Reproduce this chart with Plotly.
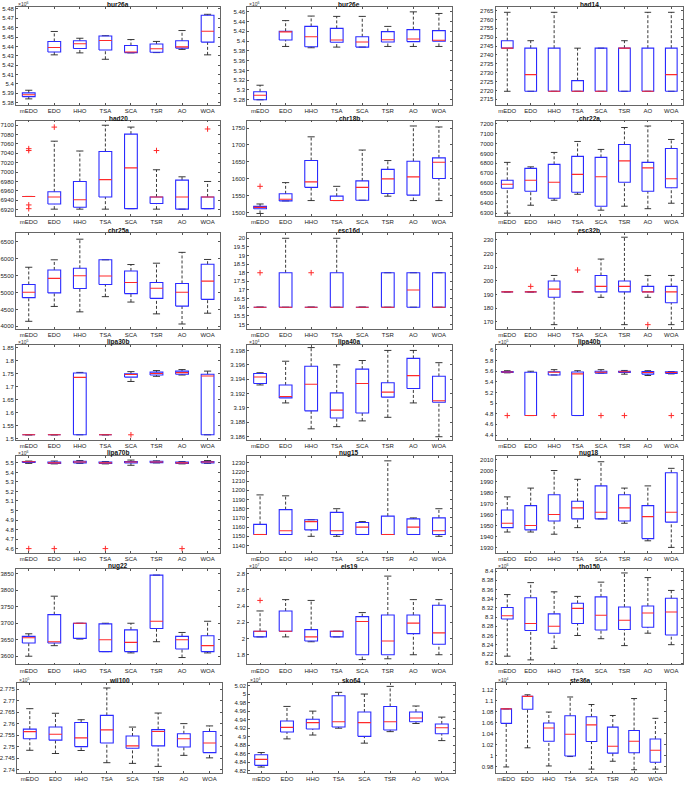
import plotly.graph_objects as go

categories = ["mEDO", "EDO", "HHO", "TSA", "SCA", "TSR", "AO", "WOA"]

# Each panel: [lower whisker, Q1, median, Q3, upper whisker] per algorithm; outliers as (index, value)
bur26a = [[5.3841, 5.4310, 5.4331, 5.4263, 5.4331, 5.4334, 5.4368, 5.4310],
          [5.3865, 5.4341, 5.4378, 5.4361, 5.4334, 5.4337, 5.4382, 5.4446],
          [5.3885, 5.4388, 5.4429, 5.4463, 5.4341, 5.4375, 5.4395, 5.4562],
          [5.3905, 5.4453, 5.4460, 5.4511, 5.4409, 5.4426, 5.4460, 5.4732],
          [5.3933, 5.4559, 5.4487, 5.4514, 5.4473, 5.4453, 5.4569, 5.4742]]
bur26a_out = []
bur26e = [[5.2799, 5.3891, 5.3865, 5.3878, 5.3878, 5.3891, 5.3891, 5.3891],
          [5.2799, 5.4024, 5.3885, 5.3977, 5.3878, 5.3984, 5.3991, 5.3997],
          [5.2891, 5.4189, 5.4090, 5.4024, 5.3984, 5.4030, 5.4044, 5.4017],
          [5.2964, 5.4203, 5.4302, 5.4262, 5.4090, 5.4196, 5.4236, 5.4216],
          [5.3097, 5.4421, 5.4514, 5.4507, 5.4507, 5.4302, 5.4600, 5.4567]]
bur26e_out = []
had14 = [[2719.5, 2719.5, 2719.5, 2719.5, 2719.5, 2719.5, 2719.5, 2719.5],
         [2743.8, 2719.5, 2719.5, 2719.5, 2719.5, 2719.5, 2719.5, 2719.5],
         [2743.8, 2728.9, 2719.5, 2719.5, 2719.5, 2743.8, 2719.5, 2728.9],
         [2748.0, 2743.8, 2743.8, 2725.5, 2743.8, 2743.8, 2743.8, 2743.8],
         [2764.0, 2748.0, 2764.0, 2743.8, 2743.8, 2748.0, 2764.0, 2764.0]]
had14_out = []
had20 = [[6948, 6921, 6921, 6921, 6922, 6921, 6921, 6922],
         [6948, 6932, 6925, 6947, 6922, 6933, 6921, 6922],
         [6948, 6947, 6941, 6984, 7009, 6947, 6947, 6947],
         [6948, 6958, 6980, 7044, 7081, 6947, 6983, 6947],
         [6948, 7066, 7045, 7100, 7096, 7005, 6990, 6980]]
had20_out = [(0, 7050), (0, 7046), (0, 6930), (0, 6922), (1, 7096), (5, 7046), (7, 7092)]
chr18b = [[1498, 1535, 1536, 1536, 1537, 1549, 1536, 1536],
          [1512, 1535, 1575, 1536, 1537, 1557, 1552, 1601],
          [1516, 1540, 1591, 1536, 1575, 1600, 1606, 1649],
          [1519, 1556, 1654, 1549, 1594, 1628, 1652, 1662],
          [1526, 1589, 1724, 1578, 1685, 1654, 1756, 1753]]
chr18b_out = [(0, 1578)]
chr22a = [[6300, 6380, 6430, 6490, 6330, 6370, 6345, 6400],
          [6550, 6520, 6450, 6510, 6370, 6610, 6520, 6555],
          [6590, 6630, 6610, 6690, 6665, 6825, 6755, 6645],
          [6630, 6750, 6790, 6870, 6860, 6990, 6810, 6950],
          [6810, 6765, 6910, 7020, 6940, 7160, 7175, 7040]]
chr22a_out = []
chr25a = [[4150, 4590, 4430, 4880, 4720, 4370, 4070, 4390],
          [4850, 4990, 5120, 5240, 4970, 4830, 4600, 4800],
          [5010, 5420, 5500, 5490, 5300, 5130, 5010, 5340],
          [5240, 5670, 5720, 5970, 5640, 5300, 5270, 5840],
          [5750, 5970, 6580, 5970, 5830, 5870, 6190, 5980]]
chr25a_out = []
esc16d = [[16, 16, 16, 16, 16, 16, 16, 16],
          [16, 16, 16, 16, 16, 16, 16, 16],
          [16, 16, 16, 16, 16, 16, 17, 16],
          [16, 18, 16, 18, 16, 18, 18, 18],
          [16, 20, 16, 20, 16, 18, 18, 18]]
esc16d_out = [(0, 18), (2, 18)]
esc32b = [[192, 192, 168, 192, 188, 168, 188, 168],
          [192, 192, 188, 192, 192, 192, 192, 184],
          [192, 192, 194, 192, 196, 196, 192, 192],
          [192, 192, 200, 192, 204, 200, 196, 196],
          [192, 192, 204, 192, 216, 232, 204, 204]]
esc32b_out = [(1, 196), (3, 208), (6, 168)]
lipa30b = [[1.5143, 1.5143, 1.5143, 1.5143, 1.720, 1.740, 1.745, 1.5143],
           [1.5143, 1.5143, 1.5143, 1.5143, 1.737, 1.745, 1.748, 1.5143],
           [1.5143, 1.5143, 1.736, 1.5143, 1.747, 1.751, 1.754, 1.741],
           [1.5143, 1.5143, 1.753, 1.5143, 1.750, 1.756, 1.760, 1.748],
           [1.5143, 1.5143, 1.755, 1.5143, 1.758, 1.762, 1.766, 1.760]]
lipa30b_out = [(4, 1.5143)]
lipa40a = [[3.1932, 3.1907, 3.1871, 3.1874, 3.1882, 3.1887, 3.1907, 3.1860],
           [3.1934, 3.1914, 3.1896, 3.1886, 3.1893, 3.1915, 3.1927, 3.1908],
           [3.1943, 3.1916, 3.1933, 3.1897, 3.1934, 3.1922, 3.1945, 3.1910],
           [3.1948, 3.1932, 3.1958, 3.1921, 3.1954, 3.1935, 3.1969, 3.1944],
           [3.1949, 3.1965, 3.1984, 3.1960, 3.1966, 3.1980, 3.1980, 3.1963]]
lipa40a_out = []
lipa40b = [[5.570, 4.766, 5.530, 4.766, 5.565, 5.545, 5.520, 5.550],
           [5.575, 4.766, 5.530, 4.766, 5.565, 5.575, 5.545, 5.560],
           [5.585, 4.766, 5.580, 5.550, 5.580, 5.590, 5.575, 5.575],
           [5.595, 5.580, 5.590, 5.585, 5.600, 5.600, 5.595, 5.590],
           [5.610, 5.600, 5.630, 5.610, 5.630, 5.615, 5.610, 5.595]]
lipa40b_out = [(0, 4.766), (2, 4.766), (4, 4.766), (5, 4.766), (7, 4.766)]
lipa70b = [[5.495, 5.490, 5.495, 5.490, 5.475, 5.500, 5.490, 5.495],
           [5.505, 5.495, 5.500, 5.495, 5.500, 5.503, 5.495, 5.500],
           [5.512, 5.500, 5.510, 5.500, 5.510, 5.510, 5.500, 5.510],
           [5.515, 5.510, 5.518, 5.510, 5.515, 5.518, 5.510, 5.515],
           [5.520, 5.520, 5.525, 5.515, 5.530, 5.522, 5.515, 5.525]]
lipa70b_out = [(0, 4.6), (1, 4.6), (3, 4.6), (6, 4.6)]
nug15 = [[1152, 1152, 1150, 1150, 1152, 1152, 1152, 1150],
         [1152, 1152, 1157, 1152, 1152, 1152, 1152, 1152],
         [1152, 1156, 1166, 1156, 1160, 1152, 1160, 1156],
         [1163, 1179, 1168, 1176, 1165, 1172, 1169, 1170],
         [1195, 1194, 1168, 1180, 1166, 1232, 1170, 1180]]
nug15_out = []
nug18 = [[1944, 1944, 1942, 1948, 1956, 1952, 1936, 1930],
         [1948, 1946, 1954, 1956, 1956, 1954, 1938, 1953],
         [1952, 1950, 1960, 1966, 1962, 1966, 1958, 1962],
         [1964, 1968, 1978, 1972, 1986, 1978, 1968, 1998],
         [1976, 1984, 2000, 1992, 2008, 1984, 1986, 2002]]
nug18_out = []
nug22 = [[3600, 3632, 3652, 3614, 3610, 3644, 3596, 3610],
         [3640, 3640, 3654, 3614, 3614, 3684, 3622, 3614],
         [3656, 3644, 3700, 3650, 3642, 3706, 3650, 3632],
         [3660, 3726, 3700, 3698, 3680, 3846, 3660, 3662],
         [3668, 3782, 3700, 3700, 3700, 3846, 3672, 3706]]
nug22_out = []
els19 = [[2.02, 2.02, 1.96, 2.02, 1.74, 1.75, 1.80, 1.80],
         [2.02, 2.09, 1.97, 2.02, 1.80, 1.80, 2.06, 1.93],
         [2.09, 2.09, 2.02, 2.09, 2.21, 1.97, 2.19, 2.07],
         [2.09, 2.34, 2.11, 2.09, 2.27, 2.29, 2.29, 2.41],
         [2.34, 2.48, 2.47, 2.09, 2.32, 2.77, 2.48, 2.48]]
els19_out = [(0, 2.47)]
tho150 = [[8.215, 8.207, 8.232, 8.260, 8.253, 8.238, 8.265, 8.240],
          [8.296, 8.271, 8.265, 8.286, 8.272, 8.273, 8.278, 8.261],
          [8.303, 8.286, 8.280, 8.319, 8.304, 8.293, 8.309, 8.311],
          [8.321, 8.342, 8.307, 8.330, 8.344, 8.322, 8.324, 8.341],
          [8.349, 8.375, 8.355, 8.345, 8.376, 8.396, 8.386, 8.358]]
tho150_out = []
wil100 = [[2.7484, 2.7470, 2.7483, 2.7430, 2.7427, 2.7414, 2.7462, 2.7451],
          [2.7534, 2.7528, 2.7500, 2.7516, 2.7493, 2.7503, 2.7498, 2.7474],
          [2.7565, 2.7554, 2.7538, 2.7573, 2.7503, 2.7566, 2.7534, 2.7516],
          [2.7576, 2.7585, 2.7605, 2.7636, 2.7546, 2.7574, 2.7556, 2.7566],
          [2.7665, 2.7645, 2.7617, 2.7755, 2.7585, 2.7646, 2.7600, 2.7590]]
wil100_out = []
sko64 = [[4.829, 4.895, 4.904, 4.920, 4.885, 4.912, 4.931, 4.891],
         [4.833, 4.911, 4.918, 4.923, 4.901, 4.916, 4.935, 4.907],
         [4.847, 4.922, 4.933, 4.935, 4.933, 4.935, 4.944, 4.921],
         [4.858, 4.937, 4.941, 4.996, 4.958, 4.971, 4.958, 4.930],
         [4.863, 4.971, 4.960, 5.004, 5.000, 5.018, 4.972, 4.946]]
sko64_out = []
ste36a = [[0.980, 1.0146, 0.9818, 0.9988, 0.9761, 0.9903, 0.9750, 0.9761],
          [1.0588, 1.0843, 1.0265, 0.9999, 1.0259, 1.0050, 1.0056, 0.9886],
          [1.0849, 1.1075, 1.0503, 1.0390, 1.0560, 1.0175, 1.0265, 1.0101],
          [1.0849, 1.1075, 1.0594, 1.0724, 1.0707, 1.0520, 1.0458, 1.0305],
          [1.0849, 1.1104, 1.0792, 1.1064, 1.0928, 1.0730, 1.1036, 1.0679]]
ste36a_out = []

# Tick label values: (first, last, step)
panels = [
    ("bur26a", bur26a, bur26a_out, 6, (5.378, 5.482), (5.38, 5.48, 0.01)),
    ("bur26e", bur26e, bur26e_out, 6, (5.27, 5.47), (5.28, 5.46, 0.02)),
    ("had14", had14, had14_out, None, (2712, 2767), (2715, 2765, 5)),
    ("had20", had20, had20_out, None, (6906, 7110), (6920, 7100, 20)),
    ("chr18b", chr18b, chr18b_out, None, (1490, 1772), (1500, 1750, 50)),
    ("chr22a", chr22a, chr22a_out, None, (6270, 7230), (6300, 7200, 100)),
    ("chr25a", chr25a, chr25a_out, None, (3930, 6760), (4000, 6500, 500)),
    ("esc16d", esc16d, esc16d_out, None, (14.75, 20.3), (15, 20, 0.5)),
    ("esc32b", esc32b, esc32b_out, None, (165, 235), (170, 230, 10)),
    ("lipa30b", lipa30b, lipa30b_out, 5, (1.493, 1.862), (1.5, 1.85, 0.05)),
    ("lipa40a", lipa40a, lipa40a_out, 4, (3.1855, 3.1988), (3.186, 3.198, 0.002)),
    ("lipa40b", lipa40b, lipa40b_out, 5, (4.3, 6.1), (4.4, 6.0, 0.2)),
    ("lipa70b", lipa70b, lipa70b_out, 6, (4.555, 5.57), (4.6, 5.5, 0.1)),
    ("nug15", nug15, nug15_out, None, (1132, 1237), (1140, 1230, 10)),
    ("nug18", nug18, nug18_out, None, (1925, 2013), (1930, 2010, 10)),
    ("nug22", nug22, nug22_out, None, (3575, 3865), (3600, 3850, 50)),
    ("els19", els19, els19_out, 7, (1.68, 2.86), (1.8, 2.8, 0.2)),
    ("tho150", tho150, tho150_out, 6, (8.197, 8.405), (8.2, 8.4, 0.02)),
    ("wil100", wil100, wil100_out, 5, (2.7385, 2.7775), (2.74, 2.775, 0.005)),
    ("sko64", sko64, sko64_out, 4, (4.815, 5.025), (4.82, 5.02, 0.02)),
    ("ste36a", ste36a, ste36a_out, 4, (0.969, 1.131), (0.98, 1.12, 0.02)),
]

W, H = 685, 786
col_x = [(14, 219), (246, 451), (495, 683)]
col_x_last = [(15, 221), (247, 454), (495, 666)]
row_top = [6, 120, 233, 345, 457, 570, 685]
row_bot = [104, 216, 329, 441, 554, 666, 775]

BLUE = "#2a2aff"
RED = "#ff2a2a"
FONT = "Liberation Sans, Arial, sans-serif"

fig = go.Figure()
layout = dict(width=W, height=H, margin=dict(l=0, r=0, t=0, b=0),
              paper_bgcolor="white", plot_bgcolor="white", showlegend=False,
              font=dict(family=FONT, size=6, color="#222"))
annotations = []

bw = 0.25
cw = 0.14

for k, (name, stats, outs, expo, yr, tk) in enumerate(panels):
    r, c = divmod(k, 3)
    x0, x1 = (col_x_last if r == 6 else col_x)[c]
    top, bot = row_top[r], row_bot[r]
    ax = "" if k == 0 else str(k + 1)
    xa, ya = "x" + ax, "y" + ax
    lo, q1, med, q3, hi = stats

    wx, wy, cx, cy, bx, by, mx, my = [], [], [], [], [], [], [], []
    for i in range(len(categories)):
        p = i + 1
        wx += [p, p, None, p, p, None]
        wy += [q3[i], hi[i], None, lo[i], q1[i], None]
        cx += [p - cw, p + cw, None, p - cw, p + cw, None]
        cy += [hi[i], hi[i], None, lo[i], lo[i], None]
        bx += [p - bw, p + bw, p + bw, p - bw, p - bw, None]
        by += [q1[i], q1[i], q3[i], q3[i], q1[i], None]
        mx += [p - bw, p + bw, None]
        my += [med[i], med[i], None]

    fig.add_trace(go.Scatter(x=wx, y=wy, mode="lines", xaxis=xa, yaxis=ya,
                             line=dict(color="#222", width=0.9, dash="3px,2px"), hoverinfo="skip"))
    fig.add_trace(go.Scatter(x=cx, y=cy, mode="lines", xaxis=xa, yaxis=ya,
                             line=dict(color="#222", width=0.9), hoverinfo="skip"))
    fig.add_trace(go.Scatter(x=bx, y=by, mode="lines", xaxis=xa, yaxis=ya,
                             line=dict(color=BLUE, width=1.1), hoverinfo="skip"))
    fig.add_trace(go.Scatter(x=mx, y=my, mode="lines", xaxis=xa, yaxis=ya,
                             line=dict(color=RED, width=1.1), hoverinfo="skip"))
    if outs:
        fig.add_trace(go.Scatter(x=[o[0] + 1 for o in outs], y=[o[1] for o in outs],
                                 mode="markers", xaxis=xa, yaxis=ya,
                                 marker=dict(symbol="cross-thin", size=4,
                                             line=dict(color=RED, width=1)),
                                 hoverinfo="skip"))

    t0, t1, st = tk
    n = int(round((t1 - t0) / st))
    tv = [round(t0 + j * st, 6) for j in range(n + 1)]
    tt = [f"{v:g}" for v in tv]

    axis_common = dict(showline=True, linecolor="#666", linewidth=0.8, mirror="ticks",
                       ticks="inside", ticklen=2, tickwidth=0.6, tickcolor="#555",
                       showgrid=False, zeroline=False,
                       tickfont=dict(size=6, color="#222", family=FONT))
    layout["xaxis" + ax] = dict(domain=[x0 / W, x1 / W], anchor=ya, range=[0.5, 8.5],
                                tickvals=list(range(1, 9)), ticktext=categories, **axis_common)
    layout["yaxis" + ax] = dict(domain=[1 - bot / H, 1 - top / H], anchor=xa, range=list(yr),
                                tickvals=tv, ticktext=tt, **axis_common)

    annotations.append(dict(text=f"<b>{name}</b>", xref="paper", yref="paper",
                            x=(x0 + x1) / 2 / W, y=1 - top / H, xanchor="center", yanchor="bottom",
                            yshift=-3, showarrow=False, font=dict(size=6.5, color="#111", family=FONT)))
    if expo is not None:
        annotations.append(dict(text=f"×10<sup>{expo}</sup>", xref="paper", yref="paper",
                                x=x0 / W, y=1 - top / H, xanchor="left", yanchor="bottom",
                                yshift=-2, showarrow=False, font=dict(size=5, color="#333", family=FONT)))

layout["annotations"] = annotations
fig.update_layout(**layout)
fig.write_html("out.html")
